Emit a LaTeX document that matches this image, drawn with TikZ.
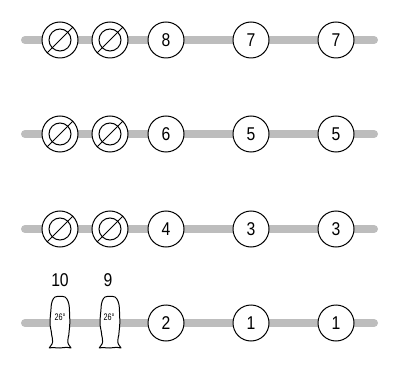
\documentclass[tikz,border=0pt]{standalone}
\usepackage{fontspec}
\setmainfont{Liberation Sans}
\newfontfamily\narrowfont[FakeStretch=0.85]{Liberation Sans}
\newfontfamily\tinyfont[FakeStretch=0.76]{Liberation Sans}
\tikzset{
  x=1pt,y=-1pt,
  bar/.style={line width=8pt,draw=black!26,line cap=round},
  numdisc/.style={circle,draw=black,line width=1pt,fill=white,minimum size=36pt,inner sep=0pt,font=\narrowfont\fontsize{18.5}{18.5}\selectfont},
  nodisc/.style={circle,draw=black,line width=1pt,fill=white,minimum size=36pt,inner sep=0pt},
  inner/.style={line width=1pt,draw=black},
  toplabel/.style={font=\narrowfont\fontsize{18.5}{18.5}\selectfont},
  deg/.style={font=\tinyfont\fontsize{9.5}{10}\selectfont},
  plug/.style={draw=black,line width=1pt,fill=white,line join=round},
}
\newcommand{\rowbar}[2]{%
  \coordinate (#1a) at (25,#2);
  \coordinate (#1b) at (374,#2);
  \draw[bar] (#1a) -- (#1b);
}
\newcommand{\nosign}[3]{%
  \node[nodisc] (#1) at (#2,#3) {};
  \draw[inner] (#1.center) circle (11pt);
  \draw[inner] (#1.225) -- (#1.45);
}
\newcommand{\plugshape}[2]{%
  \draw[plug] (#1-5,#2-26)
    .. controls (#1-7.5,#2-24.5) and (#1-8.5,#2-20) .. (#1-8.8,#2-17)
    .. controls (#1-9,#2-12) and (#1-10,#2-6) .. (#1-10,#2+0)
    .. controls (#1-10,#2+4) and (#1-8.5,#2+8) .. (#1-8.3,#2+12)
    .. controls (#1-8.2,#2+14) and (#1-7,#2+16) .. (#1-7.4,#2+19)
    -- (#1-8,#2+21) -- (#1-10.8,#2+25)
    .. controls (#1-6,#2+23.8) and (#1-3,#2+25.5) .. (#1+0,#2+25)
    .. controls (#1+4,#2+24.5) and (#1+7,#2+24) .. (#1+11,#2+25)
    -- (#1+8.3,#2+21) -- (#1+7.8,#2+19)
    .. controls (#1+7.4,#2+16) and (#1+8.6,#2+14) .. (#1+8.8,#2+12)
    .. controls (#1+9,#2+8) and (#1+9.8,#2+4) .. (#1+9.8,#2+0)
    .. controls (#1+9.8,#2-6) and (#1+9.5,#2-12) .. (#1+9.2,#2-17)
    .. controls (#1+8.8,#2-20) and (#1+7.5,#2-24.5) .. (#1+5,#2-26)
    .. controls (#1+2,#2-27) and (#1-2,#2-27) .. (#1-5,#2-26) -- cycle;
}
\begin{document}
\begin{tikzpicture}
\useasboundingbox (0,0) rectangle (398,371);
\rowbar{r1}{40}
\rowbar{r2}{134}
\rowbar{r3}{229}
\rowbar{r4}{323}
\nosign{a1}{60}{40}
\nosign{a2}{110}{40}
\node[numdisc] (a3) at (166,40) {8};
\node[numdisc] (a4) at (251,40) {7};
\node[numdisc] (a5) at (336,40) {7};
\nosign{b1}{60}{134}
\nosign{b2}{110}{134}
\node[numdisc] (b3) at (166,134) {6};
\node[numdisc] (b4) at (251,134) {5};
\node[numdisc] (b5) at (336,134) {5};
\nosign{c1}{60}{229}
\nosign{c2}{110}{229}
\node[numdisc] (c3) at (166,229) {4};
\node[numdisc] (c4) at (251,229) {3};
\node[numdisc] (c5) at (336,229) {3};
\plugshape{60}{323}
\plugshape{110}{323}
\node[deg] (d1t) at (60,317) {26°};
\node[deg] (d2t) at (109,317) {26°};
\node[toplabel] (d1l) at (60,280) {10};
\node[toplabel] (d2l) at (108,280) {9};
\node[numdisc] (d3) at (166,323) {2};
\node[numdisc] (d4) at (251,323) {1};
\node[numdisc] (d5) at (336,323) {1};
\end{tikzpicture}
\end{document}
